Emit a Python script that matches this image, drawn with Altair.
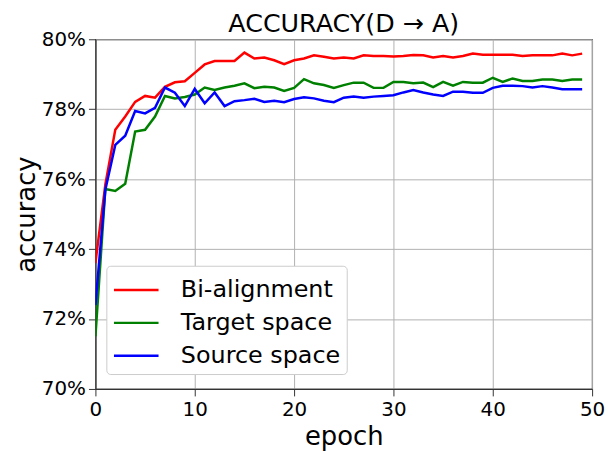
import altair as alt
import pandas as pd

epochs = list(range(50))

bi_alignment = [73.6, 75.85, 77.41, 77.79, 78.21, 78.38, 78.33, 78.64, 78.77, 78.80,
                79.04, 79.28, 79.38, 79.38, 79.38, 79.62, 79.45, 79.48, 79.40, 79.29,
                79.40, 79.45, 79.54, 79.50, 79.45, 79.48, 79.45, 79.54, 79.52, 79.52,
                79.51, 79.52, 79.55, 79.54, 79.48, 79.52, 79.48, 79.52, 79.59, 79.56,
                79.56, 79.56, 79.56, 79.52, 79.54, 79.54, 79.54, 79.59, 79.54, 79.59]

target_space = [71.5, 75.72, 75.66, 75.87, 77.36, 77.41, 77.79, 78.38, 78.31, 78.35,
                78.42, 78.62, 78.55, 78.62, 78.67, 78.74, 78.60, 78.64, 78.62, 78.52,
                78.61, 78.86, 78.74, 78.69, 78.61, 78.69, 78.76, 78.76, 78.61, 78.61,
                78.78, 78.78, 78.74, 78.76, 78.63, 78.78, 78.67, 78.78, 78.76, 78.76,
                78.90, 78.78, 78.88, 78.81, 78.81, 78.85, 78.85, 78.81, 78.85, 78.85]

source_space = [72.4, 75.7, 76.98, 77.24, 77.95, 77.88, 78.04, 78.62, 78.47, 78.09,
                78.58, 78.17, 78.48, 78.09, 78.23, 78.26, 78.30, 78.21, 78.24, 78.20,
                78.29, 78.34, 78.31, 78.24, 78.20, 78.33, 78.36, 78.33, 78.36, 78.38,
                78.40, 78.48, 78.55, 78.48, 78.42, 78.38, 78.50, 78.50, 78.47, 78.47,
                78.61, 78.67, 78.67, 78.66, 78.62, 78.66, 78.62, 78.57, 78.57, 78.57]

series_names = ["Bi-alignment", "Target space", "Source space"]
series_colors = ["#ff0000", "#008000", "#0000ff"]

x_ticks = [0, 10, 20, 30, 40, 50]
y_ticks = [70, 72, 74, 76, 78, 80]

rows = []
for name, vals in zip(series_names, [bi_alignment, target_space, source_space]):
    for e, v in zip(epochs, vals):
        rows.append({"epoch": e, "acc": v, "series": name})
df = pd.DataFrame(rows)

FONT = "DejaVu Sans"

chart = alt.Chart(df).mark_line(strokeWidth=2.5, clip=True).encode(
    x=alt.X("epoch:Q",
            scale=alt.Scale(domain=[0, 50], nice=False, zero=False),
            axis=alt.Axis(values=x_ticks, title="epoch", labelFlush=False,
                          labelFontSize=20, titleFontSize=26, titlePadding=4,
                          labelPadding=4)),
    y=alt.Y("acc:Q",
            scale=alt.Scale(domain=[70, 80], nice=False, zero=False),
            axis=alt.Axis(values=y_ticks, labelFlush=False,
                          labelExpr="datum.value + '%'",
                          title="accuracy", labelFontSize=20, titleFontSize=26,
                          titlePadding=2, labelPadding=3)),
    color=alt.Color("series:N",
                    scale=alt.Scale(domain=series_names, range=series_colors),
                    legend=alt.Legend(title=None, orient="none", legendX=11, legendY=228,
                                      symbolType="M-0.99,0L1.65,0", symbolStrokeWidth=2.5,
                                      symbolSize=1156, labelFontSize=24, labelLimit=400,
                                      labelOffset=32, rowPadding=2,
                                      fillColor="white", strokeColor="#cccccc",
                                      cornerRadius=4, padding=6)),
    detail="series:N",
).properties(
    width=500, height=352,
    title=alt.TitleParams("ACCURACY(D \u2192 A)", fontSize=25.5, font=FONT,
                          fontWeight="normal", anchor="middle", offset=6, dy=14,
                          color="black"),
    autosize=alt.AutoSizeParams(type="none"),
    padding={"left": 88, "top": 30, "right": 15, "bottom": 63},
).configure_axis(
    labelFont=FONT, titleFont=FONT, labelColor="black", titleColor="black",
    titleFontWeight="normal", grid=True, gridColor="#b0b0b0", gridWidth=1,
    domainColor="#333333", domainWidth=1.2, tickColor="#333333", tickSize=7,
).configure_legend(
    labelFont=FONT, labelColor="black",
).configure_view(
    stroke="#333333", strokeWidth=1.2,
)

chart.save("out.html", embed_options={"renderer": "svg", "actions": False})
